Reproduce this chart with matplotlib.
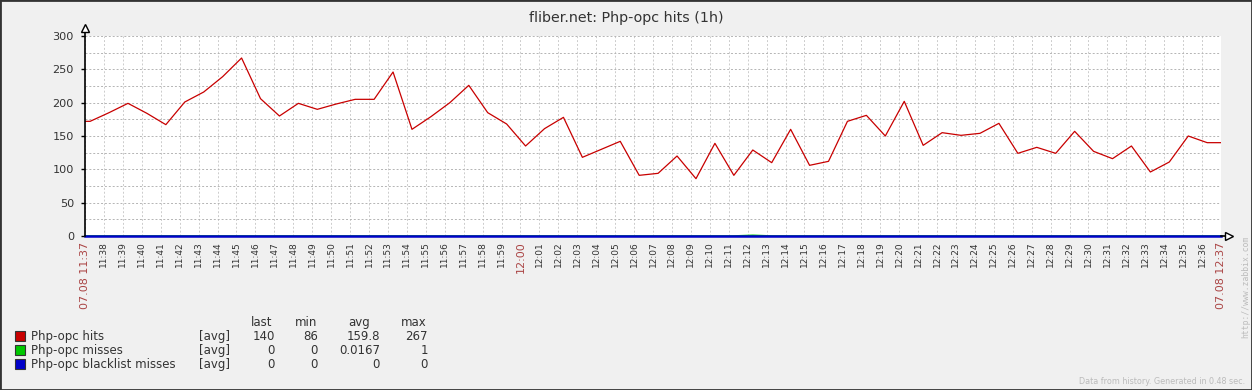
import numpy as np
import matplotlib
matplotlib.use("Agg")
import matplotlib.pyplot as plt
from matplotlib.patches import Rectangle

# Php-opc hits, one sample per minute starting 11:37 (+~16 s)
hits = [172, 185, 199, 184, 167, 201, 216, 239, 267, 206, 180, 199, 190, 198, 205, 205, 246, 160,
        179, 200, 226, 185, 168, 135, 161, 178, 118, 130, 142, 91, 94, 120, 86, 139, 91, 129, 110,
        160, 106, 112, 172, 181, 150, 202, 136, 155, 151, 154, 169, 124, 133, 124, 157, 127, 116,
        135, 96, 111, 150, 140]
misses = [0] * 60
misses[35] = 1
blacklist = [0] * 60

minute_labels = ["07.08 11:37"] + ["11:%02d" % m for m in range(38, 60)] + \
                ["12:%02d" % m for m in range(0, 37)] + ["07.08 12:37"]
red_labels = {"07.08 11:37", "12:00", "07.08 12:37"}

legend_names = ["Php-opc hits", "Php-opc misses", "Php-opc blacklist misses"]
legend_colors = ["#C80000", "#00C800", "#0000C8"]
stats_last = ["140", "0", "0"]
stats_min = ["86", "0", "0"]
stats_avg = ["159.8", "0.0167", "0"]
stats_max = ["267", "1", "0"]

W, H = 1252, 390
BG = "#F0F0F0"
TXT = "#333333"
RED = "#AA4444"
LEG_FS = 8.5

def fx(x):
    return x / W

def fy(y):
    return 1 - y / H

fig = plt.figure(figsize=(W / 100, H / 100), dpi=100, facecolor=BG)
fig.patches.append(Rectangle((0, 0), 1, 1, transform=fig.transFigure, fill=False,
                             edgecolor="#333333", lw=2, zorder=10))

ax = fig.add_axes([fx(85), fy(236), fx(1136), 200 / H])
ax.set_facecolor("white")
ax.set_xlim(0, 60)
ax.set_ylim(0, 300)
for s in ax.spines.values():
    s.set_visible(False)

# grid
for m in range(61):
    ax.axvline(m, color="#cccccc", lw=0.7, ls=(0, (2, 2)), zorder=1)
for v in range(25, 301, 25):
    ax.axhline(v, color="#b4b4b4", lw=0.7, ls=(0, (2, 2)), zorder=1)

t = np.arange(60) + 0.27
def ext(vals):
    return np.r_[0, t, 60], np.r_[vals[0], vals, vals[-1]]

x, y = ext(hits)
ax.plot(x, y, color="#C80000", lw=0.9, zorder=3)
x, y = ext(misses)
ax.plot(x, y, color="#00C800", lw=1.2, zorder=3, clip_on=False)
x, y = ext(blacklist)
ax.plot(x, y, color="#0000C8", lw=1.8, zorder=4, clip_on=False)

# axes with arrows
ax.plot([0, 0], [0, 1.04], transform=ax.transAxes, color="black", lw=1.2, clip_on=False, zorder=5)
ax.plot([0], [1.04], transform=ax.transAxes, marker="^", ms=6, mfc="white", mec="black",
        mew=1, clip_on=False, zorder=6)
ax.plot([1.0, 1.006], [0, 0], transform=ax.transAxes, color="black", lw=1.2, clip_on=False, zorder=5)
ax.plot([1.007], [0], transform=ax.transAxes, marker=">", ms=6, mfc="white", mec="black",
        mew=1, clip_on=False, zorder=6)

ax.set_yticks(range(0, 301, 50))
ax.tick_params(axis="y", length=3, width=1, color="black", pad=5, labelsize=8.1, labelcolor=TXT)
ax.set_xticks(range(61))
ax.set_xticklabels(minute_labels, rotation=90, fontsize=6.5, color=TXT)
ax.tick_params(axis="x", length=0, pad=4)
for lab in ax.get_xticklabels():
    if lab.get_text() in red_labels:
        lab.set_color(RED)
        lab.set_fontsize(8.0)

fig.text(0.5, fy(18), "fliber.net: Php-opc hits (1h)", ha="center", va="center",
         fontsize=10.3, color=TXT)

# legend
hdr_y = 326
row_y = [340, 354, 368]
for col, xr in zip(["last", "min", "avg", "max"], [272, 317, 370, 427]):
    fig.text(fx(xr), fy(hdr_y), col, ha="right", va="baseline", fontsize=LEG_FS, color=TXT)
for i in range(3):
    yy = row_y[i]
    fig.patches.append(Rectangle((fx(15), fy(yy + 1)), fx(10), 10 / H, transform=fig.transFigure,
                                 facecolor=legend_colors[i], edgecolor="#333333", lw=0.8))
    fig.text(fx(31), fy(yy), legend_names[i], ha="left", va="baseline", fontsize=LEG_FS, color=TXT)
    fig.text(fx(199), fy(yy), "[avg]", ha="left", va="baseline", fontsize=LEG_FS, color=TXT)
    for vals, xr in zip([stats_last, stats_min, stats_avg, stats_max], [275, 318, 380, 428]):
        fig.text(fx(xr), fy(yy), vals[i], ha="right", va="baseline", fontsize=LEG_FS, color=TXT)

fig.text(fx(1245), fy(381), "Data from history. Generated in 0.48 sec.", ha="right",
         va="center", fontsize=5.8, color="#bbbbbb")
fig.text(fx(1246), fy(236), "http://www.zabbix.com", ha="center", va="top", rotation=90,
         fontsize=5.8, color="#bbbbbb", family="DejaVu Sans Mono")

fig.savefig("out.png", dpi=100, facecolor=BG)
